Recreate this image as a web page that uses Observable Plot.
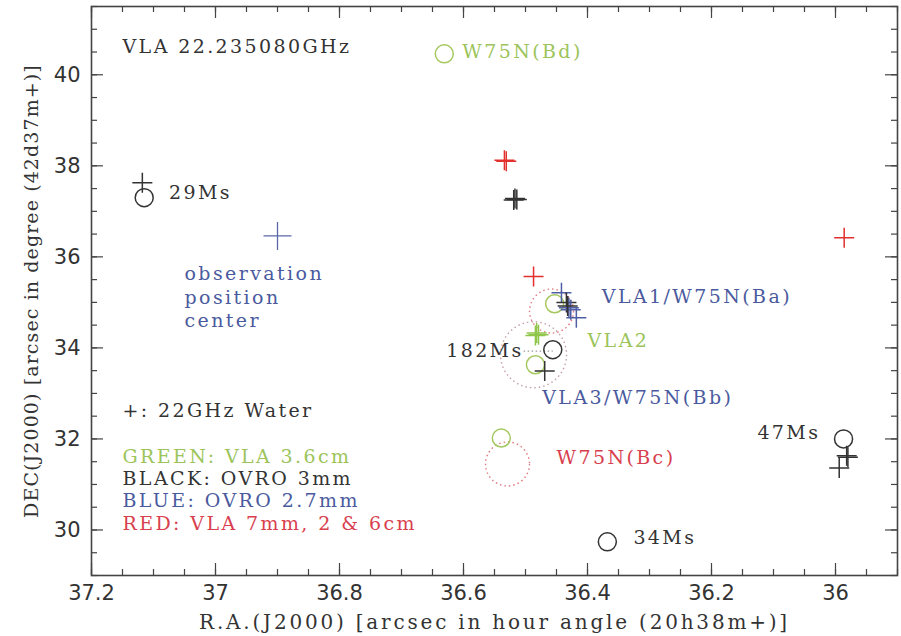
<!DOCTYPE html>
<html><head><meta charset="utf-8">
<script src="https://cdn.jsdelivr.net/npm/d3@7"></script>
<script src="https://cdn.jsdelivr.net/npm/@observablehq/plot@0.6"></script>
<style>
body{margin:0;background:#fff}
#chart svg{display:block}
#chart g.lbl text{letter-spacing:2.4px}
#chart g.ttlx text{letter-spacing:2.8px}
#chart g.ttly text{letter-spacing:1.1px}
</style>
</head><body><div id="chart"></div>
<script>
// ---- tick labels ----
const xTicks = [37.2, 37, 36.8, 36.6, 36.4, 36.2, 36];
const yTicks = [30, 32, 34, 36, 38, 40];

// ---- 22 GHz water masers (+) ----
const plusRA   = [37.118, 36.534, 36.531, 36.517, 36.514, 36.519, 35.986, 36.487, 36.442, 36.434, 36.430, 36.427, 36.432, 36.418, 36.482, 36.479, 36.484, 36.469, 35.982, 35.980, 35.994];
const plusDEC  = [37.63, 38.12, 38.10, 37.28, 37.26, 37.25, 36.42, 35.57, 35.21, 35.00, 34.88, 34.84, 34.92, 34.66, 34.33, 34.29, 34.27, 33.49, 31.63, 31.60, 31.36];
const plusBand = ["black","red","red","black","black","black","red","red","blue","black","blue","blue","black","blue","green","green","green","black","black","black","black"];

// observation position center
const centerRA = [36.90], centerDEC = [36.46];

// ---- continuum sources (o) ----
const circRA   = [37.115, 36.631, 36.453, 36.456, 36.484, 36.539, 35.987, 36.368];
const circDEC  = [37.30, 40.46, 34.97, 33.96, 33.63, 32.02, 32.00, 29.74];
const circBand = ["black","green","green","black","green","green","black","black"];

// ---- extended (dotted) sources ----
const extRA   = [36.487, 36.458, 36.529];
const extDEC  = [33.85, 34.81, 31.45];
const extKind = ["large", "small", "small"];

// ---- annotations ----
const labText = ["VLA 22.235080GHz","W75N(Bd)","29Ms","observation","position","center","VLA1/W75N(Ba)","VLA2","VLA3/W75N(Bb)","W75N(Bc)","47Ms","34Ms","+: 22GHz Water","GREEN: VLA 3.6cm","BLACK: OVRO 3mm","BLUE: OVRO 2.7mm","RED: VLA 7mm, 2 & 6cm"];
const labRA   = [37.15, 36.602, 37.075, 37.05, 37.05, 37.05, 36.377, 36.400, 36.473, 36.450, 36.126, 36.326, 37.15, 37.15, 37.15, 37.15, 37.15];
const labDEC  = [40.62, 40.50, 37.41, 35.63, 35.10, 34.59, 35.12, 34.15, 32.90, 31.58, 32.13, 29.82, 32.62, 31.60, 31.12, 30.64, 30.13];
const labBand = ["black","green","black","blue","blue","blue","blue","green","blue","red","black","black","black","green","black","blue","red"];
const leftLabText = ["182Ms"], leftLabRA = [36.503], leftLabDEC = [33.93];

// ---- build tables ----
const colors = {black:"#333333", red:"#e2302c", blue:"#4f5fa6", green:"#8fc64a"};
const textColors = {black:"#333333", red:"#d8404e", blue:"#4a5a9e", green:"#9cc45a"};
const pluses = plusRA.map((x,i)=>({x, y:plusDEC[i], c:colors[plusBand[i]]}));
const circles = circRA.map((x,i)=>({x, y:circDEC[i], c:circBand[i]==="green" ? "#a5c860" : colors[circBand[i]]}));
const exts = extRA.map((x,i)=>({x, y:extDEC[i], kind:extKind[i]}));
const labels = labText.map((t,i)=>({t, x:labRA[i], y:labDEC[i], c:textColors[labBand[i]]}));
const leftLabels = leftLabText.map((t,i)=>({t, x:leftLabRA[i], y:leftLabDEC[i]}));
const centers = centerRA.map((x,i)=>({x, y:centerDEC[i]}));
// dotted leader from the 182Ms label to its source
const leaders = leftLabels.map((d,i)=>({x1: d.x, y1: d.y, x2: circRA[3], y2: d.y}));

const xMinor = d3.range(0, 27).map(i => +(35.9 + i*0.05).toFixed(2));
const yMinor = d3.range(0, 26).map(i => 29 + i*0.5);

const plusSym = {draw(ctx, size){const r=Math.sqrt(size/Math.PI); ctx.moveTo(-r,0); ctx.lineTo(r,0); ctx.moveTo(0,-r); ctx.lineTo(0,r);}};

const W = 901, H = 636, mL = 91, mR = 4, mT = 6, mB = 61;
const fh = H - mT - mB, fw = W - mL - mR;
const tc = "#444";

const plot = Plot.plot({
  width: W, height: H,
  marginLeft: mL, marginRight: mR, marginTop: mT, marginBottom: mB,
  x: {domain: [37.2, 35.9]},
  y: {domain: [29, 41.5]},
  color: {type: "identity"},
  r: {type: "identity"},
  style: {background: "#fff"},
  marks: [
    // inward ticks on four sides
    Plot.ruleX(xTicks, {insetTop: fh - 12, stroke: tc, strokeWidth: 1.2}),
    Plot.ruleX(xMinor, {insetTop: fh - 6, stroke: tc, strokeWidth: 1.2}),
    Plot.ruleX(xTicks, {insetBottom: fh - 12, stroke: tc, strokeWidth: 1.2}),
    Plot.ruleX(xMinor, {insetBottom: fh - 6, stroke: tc, strokeWidth: 1.2}),
    Plot.ruleY(yTicks, {insetRight: fw - 12, stroke: tc, strokeWidth: 1.2}),
    Plot.ruleY(yMinor, {insetRight: fw - 6, stroke: tc, strokeWidth: 1.2}),
    Plot.ruleY(yTicks, {insetLeft: fw - 12, stroke: tc, strokeWidth: 1.2}),
    Plot.ruleY(yMinor, {insetLeft: fw - 6, stroke: tc, strokeWidth: 1.2}),
    Plot.frame({stroke: "#444", strokeWidth: 1.6}),
    Plot.axisX(xTicks, {tickSize: 0, tickPadding: 10, fontSize: 21, fontFamily: "DejaVu Sans", fill: "#333", tickFormat: d => String(d), label: null}),
    Plot.axisY(yTicks, {tickSize: 0, tickPadding: 11, fontSize: 21, fontFamily: "DejaVu Sans", fill: "#333", tickFormat: d => String(d), label: null}),
    // extended sources
    Plot.dot(exts, {x: "x", y: "y", r: d => d.kind === "large" ? 33 : 22, fill: "none",
      stroke: d => d.kind === "large" ? "#c4a0a6" : "#e07a80", strokeWidth: 1.4, strokeDasharray: "1.5,3"}),
    Plot.link(leaders, {x1: "x1", y1: "y1", x2: "x2", y2: "y2", stroke: "#999", strokeWidth: 1.3, strokeDasharray: "1.5,2.5", insetLeft: 4, insetRight: 9}),
    // continuum
    Plot.dot(circles, {x: "x", y: "y", r: 9, fill: "none", stroke: "c", strokeWidth: 1.5}),
    // masers
    Plot.dot(pluses, {x: "x", y: "y", r: 10, symbol: plusSym, fill: "none", stroke: "c", strokeWidth: 1.5}),
    Plot.dot(centers, {x: "x", y: "y", r: 14, symbol: plusSym, fill: "none", stroke: "#5a68a8", strokeWidth: 1.3}),
    // annotations
    Plot.text(labels, {x: "x", y: "y", text: "t", fill: "c", textAnchor: "start", fontSize: 19, fontFamily: "DejaVu Serif", className: "lbl"}),
    Plot.text(leftLabels, {x: "x", y: "y", text: "t", fill: "#333", textAnchor: "end", fontSize: 19, fontFamily: "DejaVu Serif", className: "lbl"}),
    // axis titles
    Plot.text(["R.A.(J2000) [arcsec in hour angle (20h38m+)]"], {frameAnchor: "bottom", dy: 47, textAnchor: "middle", lineAnchor: "middle", fontSize: 20, fontFamily: "DejaVu Serif", fill: "#333", className: "ttlx"}),
    Plot.text(["DEC(J2000) [arcsec in degree (42d37m+)]"], {frameAnchor: "left", dx: -60, rotate: -90, textAnchor: "middle", lineAnchor: "middle", fontSize: 19, fontFamily: "DejaVu Serif", fill: "#333", className: "ttly"})
  ]
});
document.getElementById("chart").appendChild(plot);
</script>
</body></html>
